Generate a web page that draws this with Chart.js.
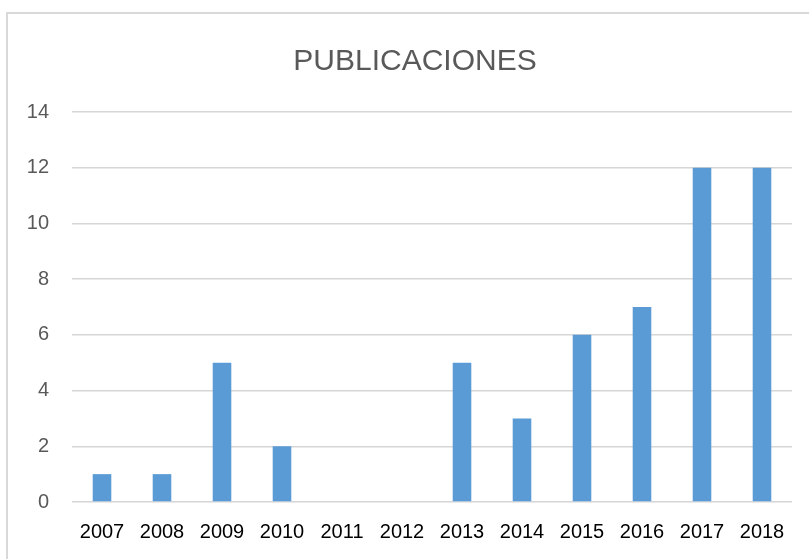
<!DOCTYPE html>
<html>
<head>
<meta charset="utf-8">
<script src="https://cdn.jsdelivr.net/npm/chart.js@4"></script>
<style>
  html, body { margin: 0; padding: 0; background: #fff; }
  #wrap { width: 809px; height: 559px; position: relative; }
</style>
</head>
<body>
<div id="wrap"><canvas id="chart"></canvas></div>
<script>
// Datos del grafico
const years = ['2007', '2008', '2009', '2010', '2011', '2012', '2013', '2014', '2015', '2016', '2017', '2018'];
const publicaciones = [1, 1, 5, 2, 0, 0, 5, 3, 6, 7, 12, 12];
const yTicks = [0, 2, 4, 6, 8, 10, 12, 14];
const chartTitle = 'PUBLICACIONES';

// Marco exterior y titulo (centrado como en el original de Excel)
const frame = {
  id: 'frame',
  beforeDraw(chart) {
    const ctx = chart.ctx;
    ctx.save();
    ctx.strokeStyle = '#d9d9d9';
    ctx.lineWidth = 2;
    ctx.strokeRect(7, 13, 900, 700);
    ctx.fillStyle = '#595959';
    ctx.font = '30px "Liberation Sans"';
    ctx.textAlign = 'center';
    ctx.textBaseline = 'alphabetic';
    ctx.fillText(chartTitle, 415, 70);
    ctx.restore();
  }
};

const ctx = document.getElementById('chart').getContext('2d');
new Chart(ctx, {
  type: 'bar',
  data: {
    labels: years,
    datasets: [{
      label: 'Publicaciones',
      data: publicaciones,
      backgroundColor: '#5b9bd5',
      borderWidth: 0,
      barPercentage: 0.31,
      categoryPercentage: 1
    }]
  },
  options: {
    responsive: true,
    maintainAspectRatio: false,
    animation: false,
    layout: { padding: { left: 0, right: 17, top: 112, bottom: 0 } },
    scales: {
      x: {
        grid: { display: false, drawTicks: false },
        border: { display: false },
        ticks: {
          color: '#000',
          font: { family: 'Liberation Sans', size: 20 },
          padding: 18,
          maxRotation: 0,
          autoSkip: false
        },
        afterFit: (scale) => { scale.height = 57; }
      },
      y: {
        min: 0,
        max: 14,
        afterBuildTicks: (scale) => { scale.ticks = yTicks.map(v => ({ value: v })); },
        grid: { color: '#d6d6d6', lineWidth: 1.5, drawTicks: false },
        border: { display: false },
        ticks: {
          color: '#595959',
          font: { family: 'Liberation Sans', size: 20 },
          padding: 23
        },
        afterFit: (scale) => { scale.width = 72; }
      }
    },
    plugins: {
      legend: { display: false },
      tooltip: { enabled: false },
      title: { display: false }
    }
  },
  plugins: [frame]
});
</script>
</body>
</html>
